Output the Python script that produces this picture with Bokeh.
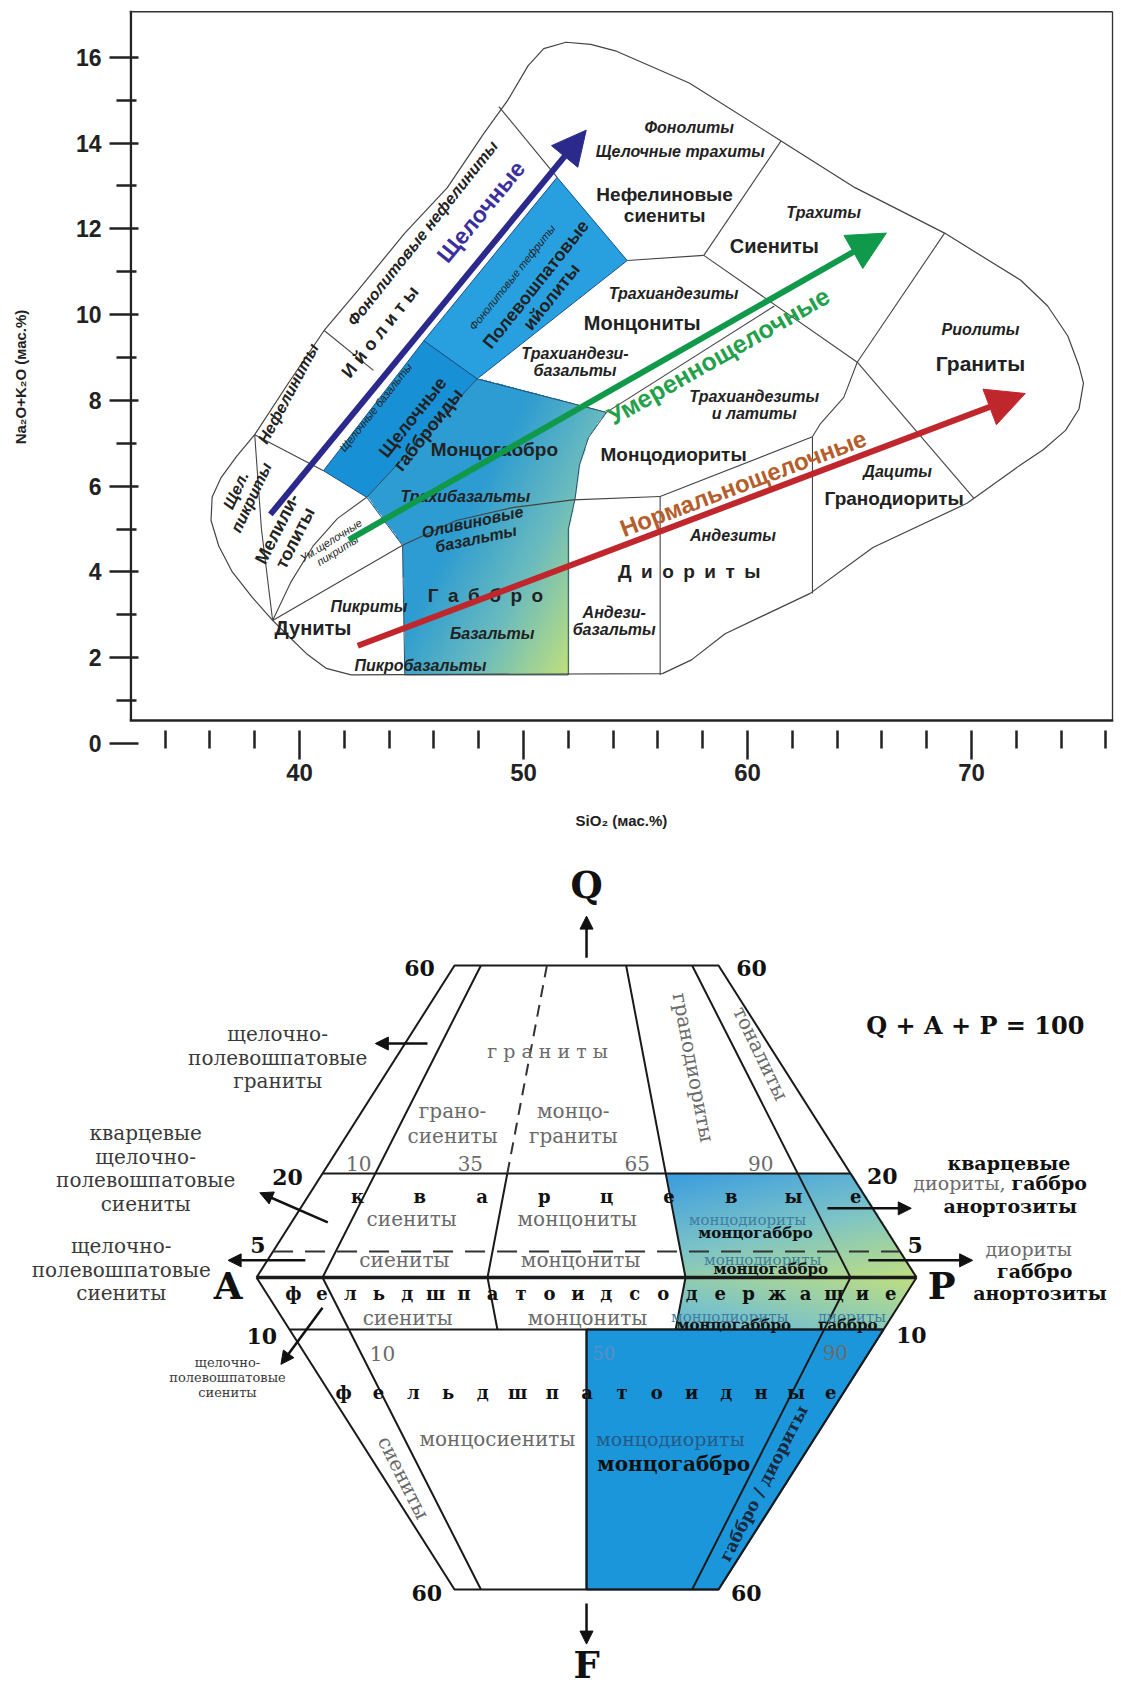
import numpy as np
from bokeh.plotting import figure
from bokeh.models import Range1d, Arrow, NormalHead, FixedTicker, ColumnDataSource
from bokeh.layouts import column
from bokeh.embed import file_html
from bokeh.resources import INLINE
from bokeh.core.properties import value

# ====================== TAS diagram (SiO2 vs Na2O+K2O) ======================
x_major_ticks = [40, 50, 60, 70]
x_minor_ticks = [34, 36, 38, 42, 44, 46, 48, 52, 54, 56, 58, 62, 64, 66, 68, 72, 74, 76]
y_major_ticks = [0, 2, 4, 6, 8, 10, 12, 14, 16]
y_minor_ticks = [1, 3, 5, 7, 9, 11, 13, 15]
x_lo, x_hi, y_lo, y_hi, y_axis_at = 32.41, 76.34, 0.0, 17.09, 0.536

outer_si = [42.3, 41.2, 40.3, 39.4, 38.8, 37.9, 37.0, 36.4, 36.05, 36.1, 36.5, 37.2, 38.0, 39.5, 41.1,
            42.6, 44.7, 46.6, 48.2, 49.3, 50.2, 50.9, 51.9, 53.0, 54.1, 57.4, 61.5, 64.8, 68.8, 72.2,
            73.4, 74.3, 74.8, 75.0, 74.8, 74.2, 73.2, 72.2, 69.8, 65.6, 62.8, 59.0, 57.5, 56.2, 42.3]
outer_alk = [1.6, 1.75, 2.1, 2.56, 2.87, 3.4, 4.0, 4.6, 5.2, 5.75, 6.2, 6.7, 7.2, 8.4, 9.63,
             10.56, 11.9, 12.96, 14.2, 15.0, 15.8, 16.2, 16.35, 16.3, 16.15, 15.4, 14.05, 12.96, 11.9, 10.8,
             10.2, 9.5, 8.8, 8.4, 7.8, 7.3, 6.85, 6.5, 5.6, 4.57, 3.5, 2.56, 1.95, 1.63, 1.6]

# coloured fields
band_a_si = [45.55, 51.5, 54.63, 47.93]
band_a_alk = [9.39, 13.2, 11.26, 8.5]
band_b_si = [41.07, 45.55, 47.93, 43.0]
band_b_alk = [6.36, 9.39, 8.5, 5.74]
grad_si = [44.7, 52.0, 52.0, 52.3, 52.5, 52.9, 53.7, 47.93, 43.0, 44.6]
grad_alk = [1.6, 1.6, 5.0, 5.7, 6.5, 7.13, 7.72, 8.5, 5.74, 4.62]

# field boundaries (SiO2 list, alkali list)
tas_lines = [
    ([38.8, 44.6], [2.87, 4.62]),
    ([38.8, 39.6, 40.6, 41.7, 43.0], [2.87, 3.75, 4.6, 5.25, 5.74]),
    ([38.0, 41.07], [7.2, 6.36]),
    ([38.0, 38.3, 38.8], [7.2, 5.0, 2.87]),
    ([41.1, 43.3], [9.63, 8.7]),
    ([48.9, 51.5], [14.85, 13.2]),
    ([54.63, 58.05], [11.26, 11.38]),
    ([58.05, 61.5], [11.38, 14.05]),
    ([58.05, 64.9, 70.1], [11.38, 8.89, 5.72]),
    ([68.8, 64.9], [11.9, 8.89]),
    ([64.9, 64.3, 63.26, 62.9], [8.89, 8.07, 7.46, 7.15]),
    ([53.7, 61.2], [7.72, 10.2]),
    ([62.9, 62.9], [7.15, 3.5]),
    ([56.1, 62.9], [5.76, 7.15]),
    ([56.1, 56.1], [1.6, 5.76]),
    ([44.6, 47.0, 49.5, 52.2, 56.1], [4.62, 5.2, 5.5, 5.68, 5.76]),
]

arrow_alk = dict(x0=38.7, y0=5.34, x1=52.8, y1=14.3)
arrow_mod = dict(x0=42.2, y0=4.75, x1=66.2, y1=11.9)
arrow_norm = dict(x0=42.6, y0=2.28, x1=72.4, y1=8.16)

SP = "\u2002"
bold_labels = [
    ("Нефелиновые\nсиениты", 56.3, 12.55, 0, "19px"), ("Сиениты", 61.2, 11.6, 0, "20px"),
    ("Монцониты", 55.3, 9.8, 0, "20px"), ("Монцодиориты", 56.7, 6.73, 0, "19px"),
    ("Граниты", 70.4, 8.86, 0, "21px"), ("Гранодиориты", 66.55, 5.72, 0, "19px"),
    (SP.join("Диориты"), 57.4, 4.02, 0, "19px"), (SP.join("Габбро"), 48.3, 3.46, 0, "19px"),
    ("Дуниты", 40.6, 2.69, 0, "20px"), ("Монцогаббро", 48.7, 6.85, 0, "19px"),
    ("Мелили-\nтолиты", 39.4, 4.9, 63, "18px"), ("И й о л и т ы", 43.6, 9.6, 51.5, "18px"),
    ("Щелочные\nгаббро" + "иды", 45.4, 7.46, 51.5, "18px"),
    ("Полевошпатовые\nийолиты", 50.9, 10.56, 51.5, "18px"),
]
ital_labels = [
    ("Фонолиты", 57.4, 14.36, 0), ("Щелочные трахиты", 57.0, 13.8, 0), ("Трахиты", 63.4, 12.37, 0),
    ("Трахиандезиты", 56.7, 10.5, 0), ("Трахиандези-\nбазальты", 52.3, 8.9, 0),
    ("Трахиандезиты\nи латиты", 60.3, 7.9, 0), ("Риолиты", 70.4, 9.66, 0), ("Дациты", 66.7, 6.35, 0),
    ("Андезиты", 59.35, 4.84, 0), ("Андези-\nбазальты", 54.05, 2.86, 0), ("Базальты", 48.6, 2.56, 0),
    ("Пикробазальты", 45.4, 1.83, 0), ("Пикриты", 43.1, 3.19, 0), ("Трахибазальты", 47.4, 5.77, 0),
    ("Оливиновые\nбазальты", 47.8, 4.97, 12), ("Нефелиниты", 39.5, 8.16, 62),
    ("Фонолитовые нефелиниты", 45.5, 11.9, 51.5), ("Щел.\nпикриты", 37.5, 5.82, 65),
]
small_labels = [
    ("Щелочные базальты", 43.4, 7.84, 51.5), ("Фонолитовые тефриты", 49.5, 10.87, 51.5),
    ("Ум.щелочные\nпикриты", 41.55, 4.62, 32),
]
series_labels = [
    ("Щелочные", 48.1, 12.4, 50.6, "#3b2f9e", "23px"),
    ("Умереннощелочные", 58.7, 9.04, 29.7, "#22a04a", "25px"),
    ("Нормальнощелочные", 59.8, 6.07, 20.7, "#b55e2c", "24px"),
]


def point_in_poly(px, py, vx, vy):
    res = np.zeros(px.shape, dtype=bool)
    n = len(vx)
    j = n - 1
    for i in range(n):
        xi, yi, xj, yj = vx[i], vy[i], vx[j], vy[j]
        cond = ((yi > py) != (yj > py)) & (px < (xj - xi) * (py - yi) / (yj - yi + 1e-12) + xi)
        res ^= cond
        j = i
    return res


def gradient_image(vx, vy, tfunc, c0, cm, c1, nx=260, ny=300):
    xmin, xmax, ymin, ymax = min(vx), max(vx), min(vy), max(vy)
    xs = xmin + (np.arange(nx) + 0.5) * (xmax - xmin) / nx
    ys = ymin + (np.arange(ny) + 0.5) * (ymax - ymin) / ny
    X, Y = np.meshgrid(xs, ys)
    t = np.clip(tfunc(X, Y), 0, 1)
    c0, cm, c1 = np.array(c0, float), np.array(cm, float), np.array(c1, float)
    rgba = np.zeros((ny, nx, 4), dtype=np.uint8)
    for k in range(3):
        lo = c0[k] + (cm[k] - c0[k]) * np.clip(t * 2, 0, 1)
        hi = cm[k] + (c1[k] - cm[k]) * np.clip(t * 2 - 1, 0, 1)
        rgba[..., k] = np.where(t < 0.5, lo, hi).astype(np.uint8)
    rgba[..., 3] = np.where(point_in_poly(X, Y, vx, vy), 255, 0).astype(np.uint8)
    img = rgba.view(dtype=np.uint32).reshape((ny, nx))
    return img, xmin, ymin, xmax - xmin, ymax - ymin


SANS = value("Liberation Sans")
SERIF = value("DejaVu Serif")

p1 = figure(width=1118, height=850, output_backend="svg", toolbar_location=None,
            x_range=Range1d(x_lo, x_hi), y_range=Range1d(y_lo, y_hi),
            min_border_left=129, min_border_right=5, min_border_top=10, min_border_bottom=107)
p1.grid.visible = False
p1.outline_line_color = None

for ax in (p1.xaxis[0], p1.yaxis[0]):
    ax.axis_line_color = None
    ax.major_tick_line_width = 2.5
    ax.minor_tick_line_width = 2.5
    ax.major_tick_line_color = "#222222"
    ax.minor_tick_line_color = "#222222"
    ax.major_label_text_font = "Liberation Sans"
    ax.major_label_text_font_style = "bold"
    ax.major_label_text_color = "#222222"
    ax.axis_label_text_font = "Liberation Sans"
    ax.axis_label_text_font_style = "bold"
    ax.axis_label_text_font_size = "15px"
    ax.axis_label_text_color = "#222222"

p1.xaxis.ticker = FixedTicker(ticks=x_major_ticks, minor_ticks=x_minor_ticks)
p1.xaxis.major_label_text_font_size = "24px"
p1.xaxis.major_tick_in = 13
p1.xaxis.major_tick_out = 16
p1.xaxis.minor_tick_in = 13
p1.xaxis.minor_tick_out = 5
p1.xaxis.major_label_standoff = 4
p1.xaxis.axis_label = "SiO₂ (мас.%)"
p1.xaxis.axis_label_standoff = 28

p1.yaxis.ticker = FixedTicker(ticks=y_major_ticks, minor_ticks=y_minor_ticks)
p1.yaxis.major_label_text_font_size = "23px"
p1.yaxis.major_tick_in = 9
p1.yaxis.major_tick_out = 20
p1.yaxis.minor_tick_in = 7
p1.yaxis.minor_tick_out = 13
p1.yaxis.major_label_standoff = 8
p1.yaxis.axis_label = "Na₂O+K₂O (мас.%)"
p1.yaxis.axis_label_standoff = 44

# axis lines and frame border (axes sit at SiO2 = x_lo and alkali = y_axis_at)
p1.line([x_lo, x_hi], [y_axis_at, y_axis_at], line_color="#222222", line_width=2.5)
p1.line([x_lo + 0.06, x_lo + 0.06], [y_axis_at, y_hi], line_color="#222222", line_width=2.5)
p1.line([x_lo, x_hi - 0.04], [y_hi - 0.03, y_hi - 0.03], line_color="#333333", line_width=1.5)
p1.line([x_hi - 0.04, x_hi - 0.04], [y_axis_at, y_hi - 0.03], line_color="#333333", line_width=1.5)

# coloured fields
p1.patch(band_a_si, band_a_alk, fill_color="#28a0e0", line_color="#1d4f86", line_width=1)
p1.patch(band_b_si, band_b_alk, fill_color="#1890d6", line_color="#1d4f86", line_width=1)
img, gx, gy, gw, gh = gradient_image(
    grad_si, grad_alk, lambda x, y: 0.12 * (x - 45) - 0.12 * (y - 3),
    (45, 156, 210), (108, 188, 190), (192, 224, 125))
p1.image_rgba(image=[img], x=gx, y=gy, dw=gw, dh=gh)
p1.patch(grad_si, grad_alk, fill_color=None, line_color="#2a4f6e", line_width=1)

p1.multi_line([l[0] for l in tas_lines], [l[1] for l in tas_lines], line_color="#444444", line_width=1.1)
p1.line(outer_si, outer_alk, line_color="#444444", line_width=1.2)

src_b = ColumnDataSource(dict(x=[i[1] for i in bold_labels], y=[i[2] for i in bold_labels],
                              t=[i[0] for i in bold_labels], a=[i[3] for i in bold_labels],
                              s=[i[4] for i in bold_labels]))
p1.text(x="x", y="y", text="t", angle="a", angle_units="deg", source=src_b, text_font=SANS,
        text_font_style="bold", text_font_size="s", text_color="#222222", text_align="center",
        text_baseline="middle", text_line_height=1.0)


def tas_text(items, style, size, color="#222222"):
    src = ColumnDataSource(dict(x=[i[1] for i in items], y=[i[2] for i in items],
                                t=[i[0] for i in items], a=[i[3] for i in items]))
    p1.text(x="x", y="y", text="t", angle="a", angle_units="deg", source=src,
            text_font=SANS, text_font_style=style, text_font_size=size, text_color=color,
            text_align="center", text_baseline="middle", text_line_height=1.0)


tas_text(ital_labels, "bold italic", "16px")
tas_text(small_labels, "italic", "11px")

for (arr, col, hs) in ((arrow_alk, "#2b2a8c", 34), (arrow_mod, "#10994a", 38), (arrow_norm, "#c0272d", 38)):
    p1.add_layout(Arrow(end=NormalHead(size=hs, fill_color=col, line_color=col),
                        x_start=arr["x0"], y_start=arr["y0"], x_end=arr["x1"], y_end=arr["y1"],
                        line_color=col, line_width=6))

for (t, x, y, a, c, s) in series_labels:
    p1.text(x=[x], y=[y], text=[t], angle=[a], angle_units="deg", text_font=SANS,
            text_font_style="bold", text_font_size=s, text_color=c, text_align="center",
            text_baseline="middle")

# ====================== QAPF double triangle ======================
q_levels = [60, 20, 5]
f_levels = [10, 60]
ratio_upper = [0.10, 0.35, 0.65, 0.90]
ratio_lower = [0.10, 0.50, 0.90]


def tern_up(q, r):
    return ((1 - q / 100.0) * (r - 0.5) * 100.0, q)


def tern_dn(f, r):
    return ((1 - f / 100.0) * (r - 0.5) * 100.0, -f)


def path(points):
    return [p[0] for p in points], [p[1] for p in points]


p2 = figure(width=1118, height=839, output_backend="svg", toolbar_location=None,
            x_range=Range1d(-88.79, 80.6), y_range=Range1d(-79.23, 82.12),
            x_axis_type=None, y_axis_type=None, min_border=0)
p2.grid.visible = False
p2.outline_line_color = None

for p in (p1, p2):
    if "frame_align" in p.properties():
        p.frame_align = False

# coloured fields
up_col = [tern_up(20, 0.65), tern_up(20, 1.0), tern_up(0, 1.0), tern_dn(10, 1.0), tern_dn(10, 0.65), tern_up(0, 0.65)]
ucx, ucy = path(up_col)


def qapf_t(x, y):
    ty = np.where(y >= 0, 0.75 * (20 - y) / 25.0, 0.6 + y / 10.0 * 0.3)
    return 0.35 * (x - 10) / 40.0 + ty


img2, qx, qy, qw, qh = gradient_image(ucx, ucy, qapf_t, (55, 155, 225), (125, 196, 200), (200, 226, 120),
                                      nx=300, ny=250)
p2.image_rgba(image=[img2], x=qx, y=qy, dw=qw, dh=qh)
lo_col = [tern_dn(10, 0.5), tern_dn(10, 1.0), tern_dn(60, 1.0), tern_dn(60, 0.5)]
lcx, lcy = path(lo_col)
p2.patch(lcx, lcy, fill_color="#1c96da", line_color="#17365c", line_width=2)

LC = "#1a1a1a"
solid = [
    [tern_up(0, 0), tern_up(60, 0), tern_up(60, 1), tern_up(0, 1)],
    [tern_dn(0, 0), tern_dn(60, 0), tern_dn(60, 1), tern_dn(0, 1)],
    [tern_up(20, 0), tern_up(20, 1)],
    [tern_dn(10, 0), tern_dn(10, 1)],
    [tern_up(60, 0.10), tern_up(0, 0.10), tern_dn(60, 0.10)],
    [tern_up(20, 0.35), tern_up(0, 0.35), tern_dn(10, 0.35)],
    [tern_up(60, 0.65), tern_up(0, 0.65), tern_dn(10, 0.65)],
    [tern_up(60, 0.90), tern_up(0, 0.90), tern_dn(60, 0.90)],
    [tern_dn(10, 0.50), tern_dn(60, 0.50)],
]
p2.multi_line([path(s)[0] for s in solid], [path(s)[1] for s in solid], line_color=LC, line_width=2)
bx, by = path([tern_up(0, 0), tern_up(0, 1)])
p2.line(bx, by, line_color=LC, line_width=3.5)
dx_, dy_ = path([tern_up(5, 0), tern_up(5, 1)])
p2.line(dx_, dy_, line_color="#333333", line_width=2, line_dash="20 12")
gx_, gy_ = path([tern_up(60, 0.35), tern_up(20, 0.35)])
p2.line(gx_, gy_, line_color="#333333", line_width=2, line_dash="12 8")

# corner letters and scale values
big = [("Q", 0, 75.5), ("F", 0, -74.6), ("A", -54.3, -1.6), ("P", 53.8, -1.6)]
p2.text(x=[b[1] for b in big], y=[b[2] for b in big], text=[b[0] for b in big], text_font=SERIF,
        text_font_style="bold", text_font_size="37px", text_color="#111111", text_align="center",
        text_baseline="middle")
nums = [("60", -25.3, 59.6), ("60", 25.0, 59.6), ("20", -45.3, 19.3), ("20", 44.8, 19.5),
        ("5", -49.8, 6.3), ("5", 49.8, 6.3), ("10", -49.2, -11.2), ("10", 49.2, -11.0),
        ("60", -24.2, -60.7), ("60", 24.2, -60.7)]
p2.text(x=[n[1] for n in nums], y=[n[2] for n in nums], text=[n[0] for n in nums], text_font=SERIF,
        text_font_style="bold", text_font_size="22px", text_color="#111111", text_align="center",
        text_baseline="middle")
p2.text(x=[58.9], y=[48.5], text=["Q + A + P = 100"], text_font=SERIF, text_font_style="bold",
        text_font_size="24px", text_color="#111111", text_align="center", text_baseline="middle")

for (x0, y0, x1, y1) in [(0, 61.5, 0, 69.5), (0, -62.7, 0, -70.5), (-24.1, 45, -32, 45),
                         (-39.2, 10.6, -49.5, 16.3), (-42.6, 3.3, -54.3, 3.3), (-40, -5.8, -46.3, -16.7),
                         (36.5, 13.3, 49.2, 13.3), (42.7, 3.3, 58.5, 3.3)]:
    p2.add_layout(Arrow(end=NormalHead(size=13, fill_color="#111111", line_color="#111111"),
                        x_start=x0, y_start=y0, x_end=x1, y_end=y1, line_color="#111111", line_width=2.5))

grey = [("грано-\nсиениты", -20.3, 29.6, 0), ("монцо-\nграниты", -2.0, 29.6, 0),
        ("10", -34.5, 22.0, 0), ("35", -17.6, 22.0, 0), ("65", 7.7, 22.0, 0), ("90", 26.4, 22.0, 0),
        ("гранодиориты", 16.2, 40.4, -79.3), ("тоналиты", 26.4, 43.1, -64.4),
        ("сиениты", -26.5, 11.3, 0), ("монцониты", -1.4, 11.3, 0),
        ("сиениты", -27.6, 3.3, 0), ("монцониты", -0.9, 3.3, 0),
        ("сиениты", -27.1, -7.7, 0), ("монцониты", 0.15, -7.7, 0),
        ("10", -30.9, -14.6, 0), ("90", 37.7, -14.4, 0),
        ("монцосиениты", -13.5, -31.0, 0), ("сиениты", -27.7, -38.5, -63.3)]
p2.text(x=[g[1] for g in grey], y=[g[2] for g in grey], text=[g[0] for g in grey],
        angle=[g[3] for g in grey], angle_units="deg", text_font=SERIF, text_font_size="20px",
        text_color="#6a6a6a", text_align="center", text_baseline="middle", text_line_height=1.05)
p2.text(x=[-5.9], y=[43.6], text=["г р а н и т ы"], text_font=SERIF, text_font_size="19px",
        text_color="#6a6a6a", text_align="center", text_baseline="middle")

teal = [("монцодиориты", 24.4, 11.0, "15px", "#3f7e9e"), ("монцодиориты", 26.7, 3.3, "15px", "#3f7e9e"),
        ("монцодиориты", 21.7, -7.5, "15px", "#3f7e9e"), ("диориты", 40.2, -7.5, "15px", "#3f7e9e"),
        ("50", 2.6, -14.6, "18px", "#5a8fc4"), ("монцодиориты", 12.7, -31.0, "19px", "#245a85")]
p2.text(x=[g[1] for g in teal], y=[g[2] for g in teal], text=[g[0] for g in teal], text_font=SERIF,
        text_font_size=[g[3] for g in teal], text_color=[g[4] for g in teal], text_align="center",
        text_baseline="middle")
blk = [("монцогаббро", 25.6, 8.6), ("монцогаббро", 27.9, 1.7), ("монцогаббро", 22.3, -9.1),
       ("габбро", 39.6, -9.1)]
p2.text(x=[g[1] for g in blk], y=[g[2] for g in blk], text=[g[0] for g in blk], text_font=SERIF,
        text_font_style="bold", text_font_size="15px", text_color="#111111", text_align="center",
        text_baseline="middle")
p2.text(x=[13.2], y=[-35.8], text=["монцогаббро"], text_font=SERIF, text_font_style="bold",
        text_font_size="20px", text_color="#111111", text_align="center", text_baseline="middle")
p2.text(x=[26.8], y=[-39.6], text=["габбро / диориты"], angle=[62.8], angle_units="deg", text_font=SERIF,
        text_font_style="bold", text_font_size="17px", text_color="#1a2a40", text_align="center",
        text_baseline="middle")

# spaced headings
spaced = [("кварцевые", -34.7, 40.8, 15.6), ("фельдшпатоидсодержащие", -44.4, 46.1, -3.1),
          ("фельдшпатоидные", -36.8, 37.0, -22.1)]
for word, xa, xb, yy in spaced:
    xs = list(np.linspace(xa, xb, len(word)))
    p2.text(x=xs, y=[yy] * len(word), text=list(word), text_font=SERIF, text_font_style="bold",
            text_font_size="18px", text_color="#111111", text_align="center", text_baseline="middle")

left_notes = [("щелочно-\nполевошпатовые\nграниты", -46.8, 42.3, "20px"),
              ("кварцевые\nщелочно-\nполевошпатовые\nсиениты", -66.8, 21.0, "20px"),
              ("щелочно-\nполевошпатовые\nсиениты", -70.5, 1.5, "20px"),
              ("щелочно-\nполевошпатовые\nсиениты", -54.4, -19.2, "13px")]
for t, x, y, s in left_notes:
    p2.text(x=[x], y=[y], text=[t], text_font=SERIF, text_font_size=s, text_color="#3a3a3a",
            text_align="center", text_baseline="middle", text_line_height=0.98)

right_notes = [("кварцевые", 64.0, 22.1, "bold", "#111111", "center"),
               ("диориты,", 63.5, 18.1, "normal", "#6a6a6a", "right"),
               ("габбро", 64.4, 18.1, "bold", "#111111", "left"),
               ("анортозиты", 64.2, 13.8, "bold", "#111111", "center"),
               ("диориты", 67.0, 5.4, "normal", "#6a6a6a", "center"),
               ("габбро", 67.9, 1.3, "bold", "#111111", "center"),
               ("анортозиты", 68.7, -2.9, "bold", "#111111", "center")]
for t, x, y, st, c, al in right_notes:
    p2.text(x=[x], y=[y], text=[t], text_font=SERIF, text_font_style=st, text_font_size="19px",
            text_color=c, text_align=al, text_baseline="middle")

layout = column(p1, p2, spacing=0)
open("out.html", "w").write(file_html(layout, INLINE))
